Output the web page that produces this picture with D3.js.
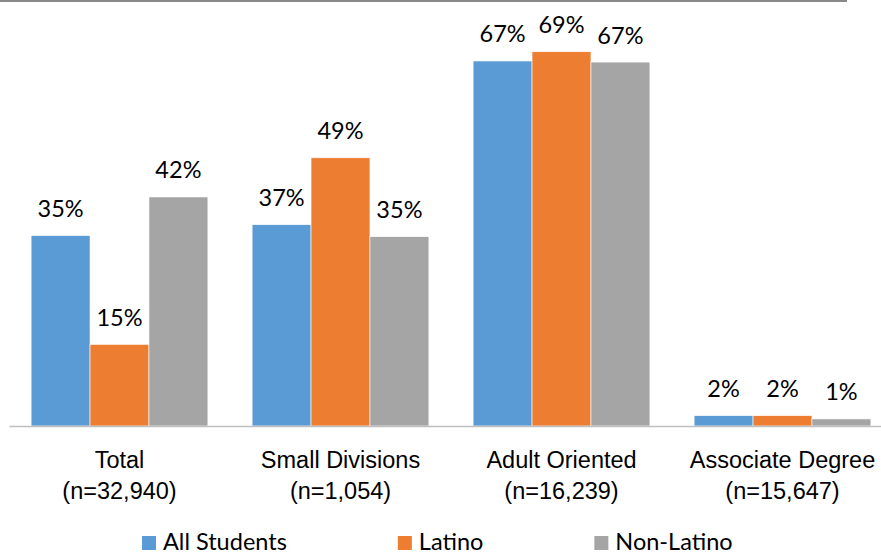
<!DOCTYPE html>
<html>
<head>
<meta charset="utf-8">
<script src="https://cdn.jsdelivr.net/npm/d3@7"></script>
<style>
  html, body { margin: 0; padding: 0; background: #ffffff; }
  svg { display: block; font-family: Lato, "Open Sans", sans-serif; }
</style>
</head>
<body>
<div id="chart"></div>
<script>
const categories = ["Total", "Small Divisions", "Adult Oriented", "Associate Degree"];
const counts = ["32,940", "1,054", "16,239", "15,647"];
const seriesNames = ["All Students", "Latino", "Non-Latino"];
const allStudents = [35.0, 37.0, 67.1, 1.9];
const latino = [15.0, 49.3, 68.8, 1.9];
const nonLatino = [42.1, 34.8, 66.9, 1.3];

const seriesColours = ["#5b9bd5", "#ed7d31", "#a5a5a5"];
const width = 881;
const height = 554;
const baseline = 426;
const fontSize = 23.5;

let svg = d3.select("#chart")
    .append("svg")
    .attr("width", width)
    .attr("height", height);

let seriesValues = [allStudents, latino, nonLatino];

let x = d3.scaleBand()
    .domain(categories)
    .range([9, 893])
    .paddingInner(0.2)
    .paddingOuter(0.1);

let xInner = d3.scaleBand()
    .domain(seriesNames)
    .range([0, x.bandwidth()]);

let y = d3.scaleLinear()
    .domain([0, 100])
    .range([baseline, baseline - 544]);

// top border line
svg.append("line")
    .attr("x1", 0).attr("x2", 847)
    .attr("y1", 1).attr("y2", 1)
    .attr("stroke", "#898989")
    .attr("stroke-width", 2);

let groups = svg.append("g")
    .selectAll("g")
    .data(categories)
    .enter().append("g")
    .attr("transform", d => "translate(" + x(d) + ",0)");

let bars = groups.selectAll("rect")
    .data((d, i) => seriesNames.map((s, j) => ({ series: s, j: j, value: seriesValues[j][i] })))
    .enter();

bars.append("rect")
    .attr("x", d => xInner(d.series))
    .attr("width", xInner.bandwidth())
    .attr("y", d => y(d.value))
    .attr("height", d => y(0) - y(d.value))
    .attr("fill", d => seriesColours[d.j])
    .attr("stroke", "#ffffff")
    .attr("stroke-width", 0.6);

bars.append("text")
    .attr("x", d => xInner(d.series) + xInner.bandwidth() / 2)
    .attr("y", d => y(d.value) - 18.5)
    .attr("text-anchor", "middle")
    .attr("font-size", fontSize)
    .attr("fill", "#000000")
    .text(d => Math.round(d.value) + "%");

// category axis
let axis = svg.append("g")
    .attr("transform", "translate(0," + baseline + ")")
    .call(d3.axisBottom(x).tickSize(0).tickPadding(0));

axis.select(".domain")
    .attr("stroke", "#bfbfbf")
    .attr("stroke-width", 1.5);

axis.selectAll(".tick text").remove();
axis.selectAll(".tick").each(function(d, i) {
    let t = d3.select(this).append("text")
        .attr("text-anchor", "middle")
        .attr("font-size", fontSize)
        .attr("fill", "#000000");
    t.append("tspan").attr("x", 0).attr("y", 42).text(d);
    t.append("tspan").attr("x", 0).attr("y", 73).text("(n=" + counts[i] + ")");
});

// legend
let legend = svg.append("g");
let legendX = 142;
seriesNames.forEach(function(name, j) {
    let item = legend.append("g").attr("transform", "translate(" + legendX + ",0)");
    item.append("rect")
        .attr("x", 0).attr("y", 536)
        .attr("width", 14).attr("height", 14)
        .attr("fill", seriesColours[j]);
    let label = item.append("text")
        .attr("x", 21).attr("y", 550)
        .attr("font-size", fontSize)
        .attr("fill", "#000000")
        .text(name);
    legendX += 21 + label.node().getComputedTextLength() + 111;
});
</script>
</body>
</html>
